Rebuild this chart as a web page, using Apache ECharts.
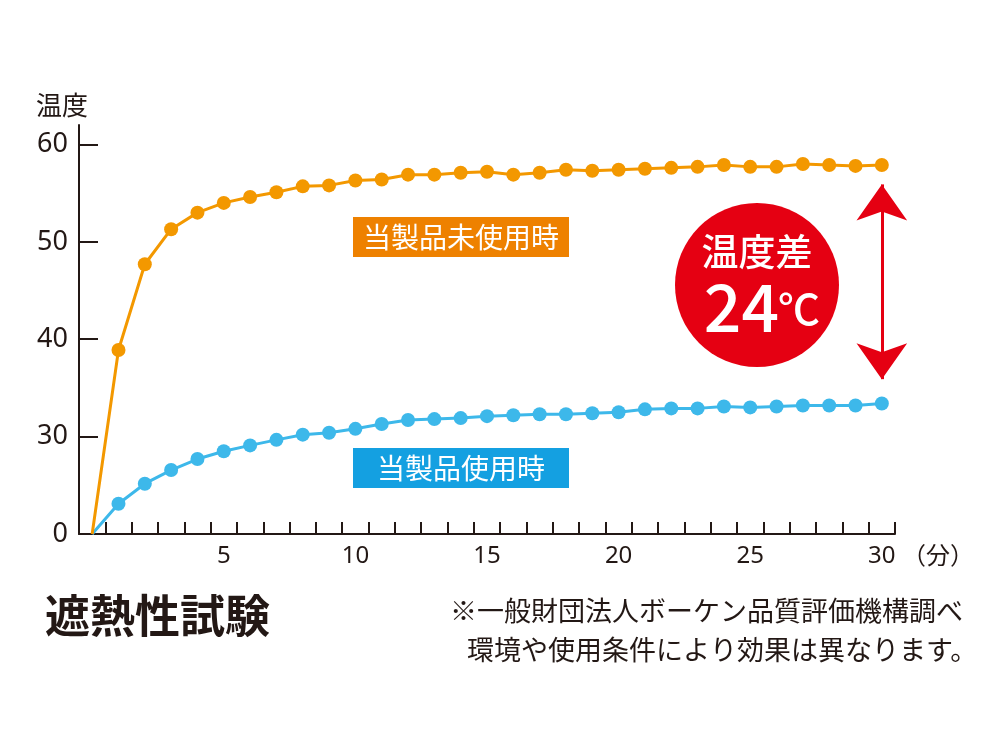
<!DOCTYPE html>
<html>
<head>
    <meta charset="utf-8">
    <script src="https://cdn.jsdelivr.net/npm/echarts@6.0.0/dist/echarts.min.js"></script>
    <style>
        html, body { margin: 0; padding: 0; background: #fff; }
    </style>
</head>
<body>
    <div id="main" style="width: 1000px;height:750px"></div>

    <script type="text/javascript">
        // 時間（分）
        var minutes = ['0', '1', '2', '3', '4', '5', '6', '7', '8', '9', '10',
            '11', '12', '13', '14', '15', '16', '17', '18', '19', '20',
            '21', '22', '23', '24', '25', '26', '27', '28', '29', '30'];
        // 当製品未使用時
        var unusedTemp = [0, 38.9, 47.7, 51.3, 53.0, 54.0, 54.6, 55.1, 55.7, 55.8, 56.3,
            56.4, 56.9, 56.9, 57.1, 57.2, 56.9, 57.1, 57.4, 57.3, 57.4,
            57.5, 57.6, 57.7, 57.9, 57.7, 57.7, 58.0, 57.9, 57.8, 57.9];
        // 当製品使用時
        var usedTemp = [0, 9.3, 15.5, 19.7, 23.1, 25.5, 27.3, 29.0, 30.2, 30.4, 30.8,
            31.3, 31.7, 31.8, 31.9, 32.1, 32.2, 32.3, 32.3, 32.4, 32.5,
            32.8, 32.9, 32.9, 33.1, 33.0, 33.1, 33.2, 33.2, 33.2, 33.4];
        // 縦軸の目盛り（0〜30 は詰めて表示）
        var yTicks = [0, 30, 40, 50, 60];
        // 温度差の矢印（上端・下端の温度）
        var arrowTop = 55.9;
        var arrowBottom = 35.9;

        var ORANGE = '#F39800';
        var BLUE = '#3DB8EA';
        var RED = '#E50012';
        var INK = '#231815';
        var JP = '"Noto Sans CJK JP", "Noto Sans", sans-serif';
        var NUM = '"Noto Sans", "Open Sans", sans-serif';

        // 目盛り間隔が等しい折れ軸へ変換
        function toAxis(v) {
            for (var i = 0; i < yTicks.length - 1; i++) {
                if (v <= yTicks[i + 1]) {
                    return i + (v - yTicks[i]) / (yTicks[i + 1] - yTicks[i]);
                }
            }
            var n = yTicks.length - 1;
            return n + (v - yTicks[n]) / (yTicks[n] - yTicks[n - 1]);
        }

        function toSeries(arr) {
            return arr.map(function (v, i) {
                var item = { value: toAxis(v) };
                if (i === 0) item.symbol = 'none';
                return item;
            });
        }

        function txt(text, x, y, size, color, align, weight) {
            return {
                type: 'text',
                x: x, y: y,
                silent: true,
                style: {
                    text: text,
                    fill: color,
                    font: (weight || 'normal') + ' ' + size + 'px ' + JP,
                    align: align || 'center',
                    textAlign: align || 'center',
                    verticalAlign: 'middle',
                    textVerticalAlign: 'middle'
                }
            };
        }

        var myChart = echarts.init(document.getElementById('main'));
        var option = {
            backgroundColor: '#fff',
            animation: false,
            grid: { left: 79, top: 125, width: 816, height: 409 },
            xAxis: {
                type: 'category',
                data: minutes,
                boundaryGap: true,
                axisLine: { lineStyle: { color: INK, width: 2 } },
                axisTick: {
                    show: true, interval: 0, inside: true, length: 12,
                    lineStyle: { color: INK, width: 2 }
                },
                axisLabel: {
                    interval: function (index) { return index > 0 && index % 5 === 0; },
                    color: INK,
                    fontSize: 24,
                    fontFamily: NUM,
                    margin: 10
                },
                splitLine: { show: false }
            },
            yAxis: {
                type: 'value',
                min: 0,
                max: 4.2,
                interval: 1,
                axisLine: { show: true, lineStyle: { color: INK, width: 2 } },
                axisTick: {
                    show: true, inside: true, length: 19,
                    customValues: [1, 2, 3, 4],
                    lineStyle: { color: INK, width: 2 }
                },
                axisLabel: {
                    customValues: [0, 1, 2, 3, 4],
                    formatter: function (v) { return String(yTicks[Math.round(v)]); },
                    color: INK,
                    fontSize: 27,
                    fontFamily: NUM,
                    margin: 11
                },
                splitLine: { show: false }
            },
            series: [{
                name: '当製品使用時',
                type: 'line',
                data: toSeries(usedTemp),
                symbol: 'circle',
                symbolSize: 14,
                lineStyle: { color: BLUE, width: 3 },
                itemStyle: { color: BLUE },
                silent: true
            }, {
                name: '当製品未使用時',
                type: 'line',
                data: toSeries(unusedTemp),
                symbol: 'circle',
                symbolSize: 14,
                lineStyle: { color: ORANGE, width: 3 },
                itemStyle: { color: ORANGE },
                silent: true,
                markLine: {
                    silent: true,
                    symbol: ['arrow', 'arrow'],
                    symbolSize: [38, 36],
                    label: { show: false },
                    lineStyle: { color: RED, width: 3, type: 'solid' },
                    data: [[
                        { coord: [30, toAxis(arrowTop)] },
                        { coord: [30, toAxis(arrowBottom)] }
                    ]]
                }
            }],
            graphic: [
                txt('温度', 62, 105, 26, INK),
                txt('（分）', 902, 555, 24, INK, 'left'),
                // 凡例ラベル
                { type: 'rect', silent: true, shape: { x: 353, y: 217, width: 216, height: 40 }, style: { fill: '#EE8100' } },
                txt('当製品未使用時', 461, 237, 28, '#fff'),
                { type: 'rect', silent: true, shape: { x: 353, y: 448, width: 216, height: 40 }, style: { fill: '#14A0E1' } },
                txt('当製品使用時', 461, 468, 28, '#fff'),
                // 温度差
                { type: 'circle', silent: true, shape: { cx: 757, cy: 285, r: 82 }, style: { fill: RED } },
                txt('温度差', 757, 252, 37, '#fff', 'center', 500),
                txt('24', 779, 307, 66, '#fff', 'right', 500),
                txt('℃', 799, 309, 42, '#fff', 'center', 500),
                // タイトル・注記
                txt('遮熱性試験', 45, 616, 45, INK, 'left', 'bold'),
                txt('※一般財団法人ボーケン品質評価機構調べ', 450, 611, 27, INK, 'left'),
                txt('環境や使用条件により効果は異なります。', 467, 650, 27, INK, 'left')
            ]
        };

        myChart.setOption(option);
    </script>
</body>
</html>
